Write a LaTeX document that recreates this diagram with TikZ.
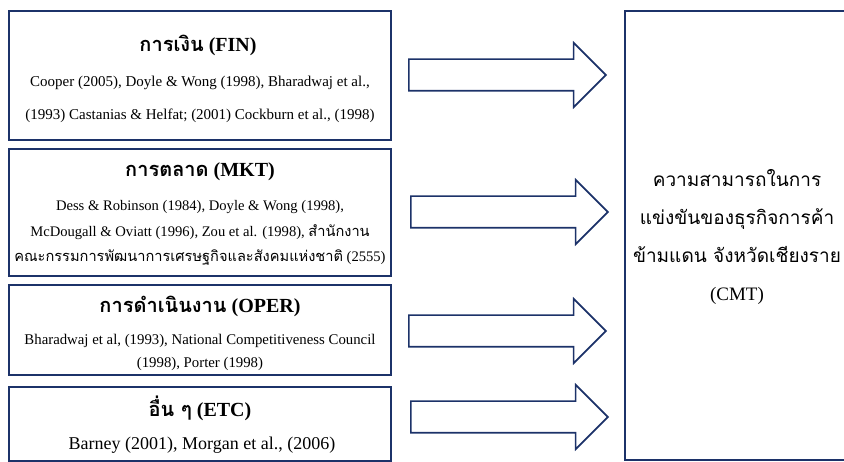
\documentclass[tikz,border=0pt]{standalone}
\usepackage{fontspec}
\setmainfont{Liberation Serif}
\newfontfamily\thaifont[Script=Thai]{Loma}
\usepackage{tikz}
\usetikzlibrary{shapes,shapes.arrows,positioning,calc}
\definecolor{navy}{RGB}{28,50,105}
\newcommand{\thtext}[1]{{\thaifont #1}}

\begin{document}
\begin{tikzpicture}[
    x=1pt, y=-1pt,
    factorbox/.style={rectangle, draw=navy, line width=1.6pt, minimum width=382pt, inner sep=0pt},
    headline/.style={font=\fontsize{20}{22}\selectfont\bfseries},
    refs/.style={align=center, inner sep=0pt},
    blockarrow/.style={single arrow, draw=navy, line width=1.6pt, minimum height=197pt, minimum width=63pt, single arrow head extend=16.5pt, single arrow head indent=0pt, inner xsep=0pt, inner ysep=15pt, anchor=tip}
]
    \clip (0,0) rectangle (844,462);
    % Factor boxes on the left
    \node[factorbox, minimum height=129pt] (fin) at (200,75.5) {};
    \node[factorbox, minimum height=127pt] (mkt) at (200,212.5) {};
    \node[factorbox, minimum height=90pt] (oper) at (200,330) {};
    \node[factorbox, minimum height=74pt] (etc) at (200,424) {};

    % Titles
    \node[headline] (fintitle) at (198,45) {\thtext{การเงิน} (FIN)};
    \node[headline] (mkttitle) at (200,172) {\thtext{การตลาด} (MKT)};
    \node[headline] (opertitle) at (200,306) {\thtext{การดำเนินงาน} (OPER)};
    \node[headline] (etctitle) at (200,408) {\thtext{อื่น ๆ} (ETC)};

    % References
    \node[refs, font=\fontsize{15}{33}\selectfont] (finrefs) at (200,99) {Cooper (2005), Doyle \& Wong (1998), Bharadwaj et al.,\\(1993) Castanias \& Helfat; (2001) Cockburn et al., (1998)};
    \node[refs, font=\fontsize{14.6}{25.5}\selectfont] (mktrefs) at (200,233) {Dess \& Robinson (1984), Doyle \& Wong (1998),\\McDougall \& Oviatt (1996), Zou et al. (1998), \thtext{สำนักงาน}\\\thtext{คณะกรรมการพัฒนาการเศรษฐกิจและสังคมแห่งชาติ} (2555)};
    \node[refs, font=\fontsize{14.8}{23}\selectfont] (operrefs) at (200,352) {Bharadwaj et al, (1993), National Competitiveness Council\\(1998), Porter (1998)};
    \node[refs, font=\fontsize{18}{20}\selectfont] (etcrefs) at (202,445) {Barney (2001), Morgan et al., (2006)};

    % Outcome box
    \node[rectangle, draw=navy, line width=1.6pt, minimum width=260pt, minimum height=449pt, inner sep=0pt] (cmt) at (755,235.5) {};
    \node[align=center, font=\fontsize{19}{37.7}\selectfont] (cmttext) at (737,237) {\thtext{ความสามารถในการ}\\\thtext{แข่งขันของธุรกิจการค้า}\\\thtext{ข้ามแดน จังหวัดเชียงราย}\\(CMT)};

    % Block arrows (tips toward the outcome box)
    \node[blockarrow] (a1) at (607,75) {};
    \node[blockarrow] (a2) at (609,212) {};
    \node[blockarrow] (a3) at (607,331) {};
    \node[blockarrow] (a4) at (609,417) {};
\end{tikzpicture}
\end{document}
